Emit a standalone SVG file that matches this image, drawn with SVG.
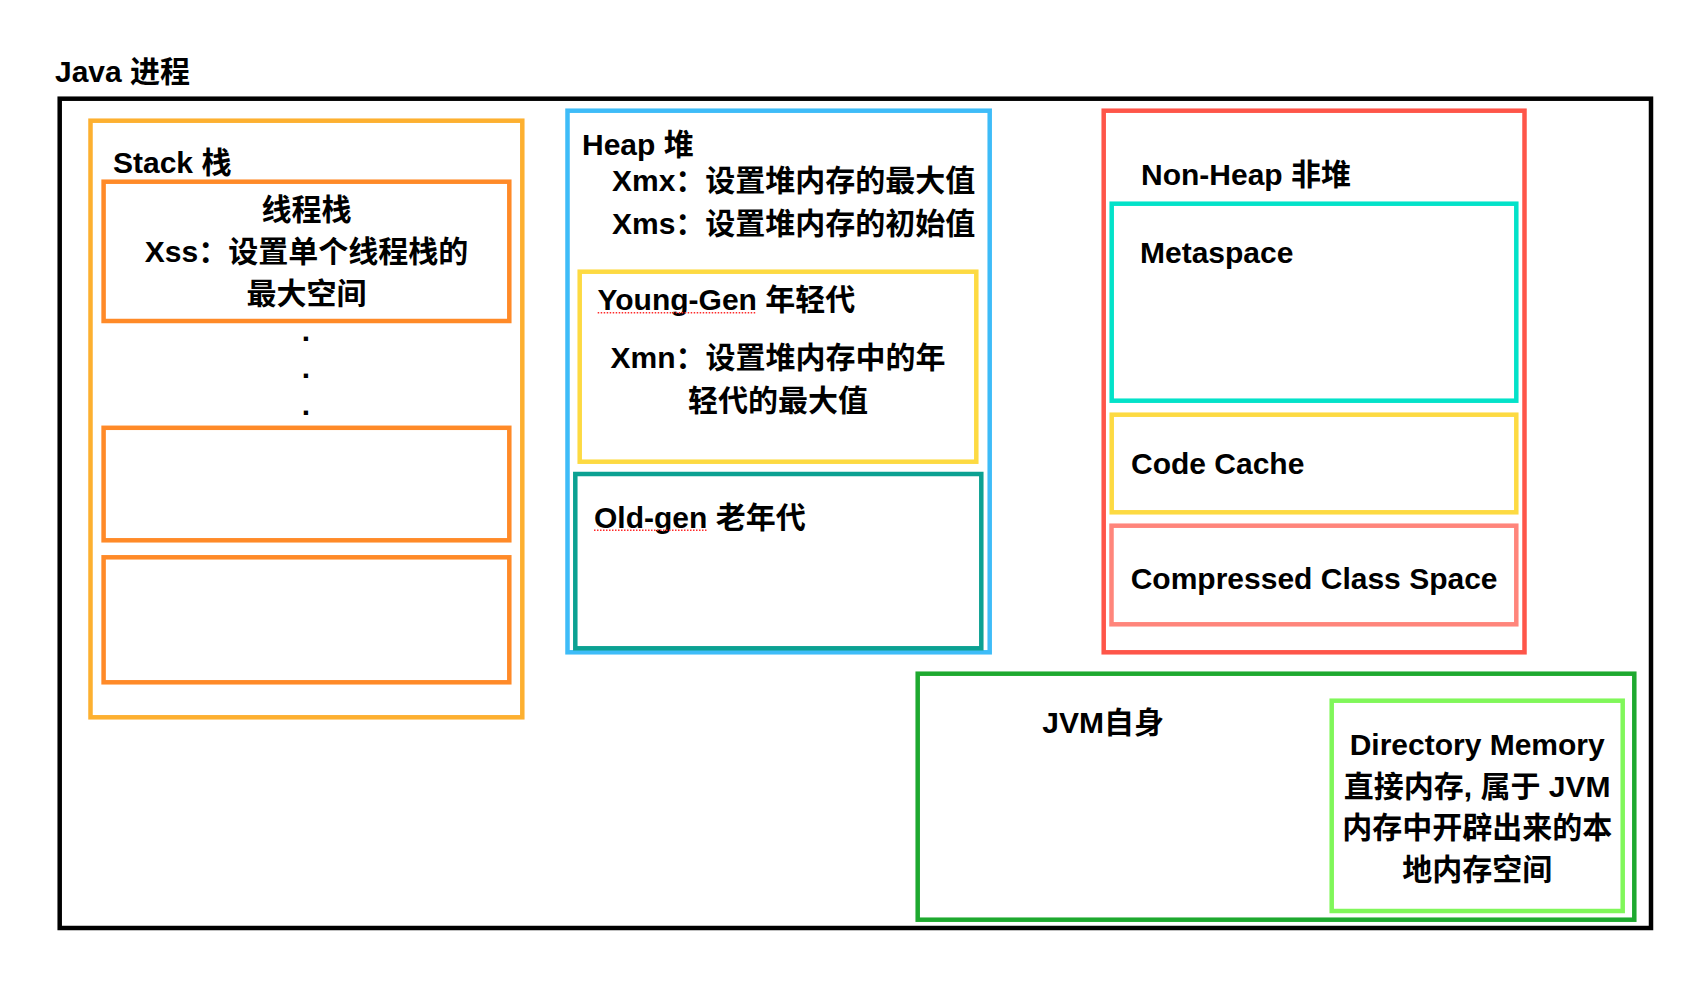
<svg xmlns="http://www.w3.org/2000/svg" width="1682" height="1002" viewBox="0 0 1682 1002">
<style>
  text { font-family: "Liberation Sans", "Noto Sans CJK SC", sans-serif; font-weight: bold; font-size: 30px; fill: #000; }
  .mid { text-anchor: middle; }
  .box { fill: none; stroke-width: 4.5; }
  .spell { fill: none; stroke: #ff2a2a; stroke-width: 1.5; stroke-dasharray: 1.5 1.5; }
</style>
<rect width="1682" height="1002" fill="#fff"/>

<g id="java-process">
  <text x="55" y="82">Java 进程</text>
  <rect class="box" x="59.7" y="98.7" width="1591.3" height="829.3" stroke="#000" stroke-width="4.7"/>
</g>

<g id="stack">
  <rect class="box" x="90.5" y="120.7" width="431.8" height="596.6" stroke="#FDB030"/>
  <text x="113" y="173">Stack 栈</text>
  <text class="mid" x="306" y="341">.</text>
  <text class="mid" x="306" y="378">.</text>
  <text class="mid" x="306" y="415">.</text>
</g>

<g id="thread-stack-1">
  <rect class="box" x="103.6" y="181.7" width="405.7" height="139.3" stroke="#FF8A28"/>
  <text class="mid" x="306.5" y="219.5">线程栈</text>
  <text class="mid" x="306.5" y="261.5">Xss：设置单个线程栈的</text>
  <text class="mid" x="306.5" y="304">最大空间</text>
</g>
<g id="thread-stack-2">
  <rect class="box" x="103.6" y="427.8" width="405.7" height="112.5" stroke="#FF8A28"/>
</g>
<g id="thread-stack-3">
  <rect class="box" x="103.6" y="557.3" width="405.7" height="125" stroke="#FF8A28"/>
</g>

<g id="heap">
  <rect class="box" x="567.5" y="110.7" width="422.2" height="541.6" stroke="#3EBCF8"/>
  <text x="582" y="155">Heap 堆</text>
  <text x="612" y="191">Xmx：设置堆内存的最大值</text>
  <text x="612" y="234">Xms：设置堆内存的初始值</text>
</g>

<g id="young-gen">
  <rect class="box" x="579.7" y="271.7" width="396.6" height="190" stroke="#FDDA42"/>
  <text x="597.5" y="310">Young-Gen 年轻代</text>
  <path class="spell" d="M597.7 312.8 H756.7"/>
  <text class="mid" x="778" y="367.5">Xmn：设置堆内存中的年</text>
  <text class="mid" x="778" y="410.5">轻代的最大值</text>
</g>

<g id="old-gen">
  <rect class="box" x="575.3" y="474" width="406" height="174.3" stroke="#0BA192"/>
  <text x="594" y="528">Old-gen 老年代</text>
  <path class="spell" d="M594 530.3 H707.3"/>
</g>

<g id="non-heap">
  <rect class="box" x="1103.7" y="110.7" width="420.8" height="541.6" stroke="#FE5549"/>
  <text x="1141" y="185">Non-Heap 非堆</text>
</g>

<g id="metaspace">
  <rect class="box" x="1111.7" y="203.7" width="404.6" height="197" stroke="#03E2C9"/>
  <text x="1140" y="262.7">Metaspace</text>
</g>

<g id="code-cache">
  <rect class="box" x="1111.7" y="414.7" width="404.6" height="97.6" stroke="#FDDA42"/>
  <text x="1131" y="474.3">Code Cache</text>
</g>

<g id="compressed-class-space">
  <rect class="box" x="1111.5" y="525.7" width="404.8" height="98.6" stroke="#FF857B"/>
  <text x="1130.7" y="589.3">Compressed Class Space</text>
</g>

<g id="jvm-self">
  <rect class="box" x="917.7" y="673.7" width="716.6" height="246" stroke="#1EA92F"/>
  <text x="1042.3" y="733.3">JVM自身</text>
</g>

<g id="direct-memory">
  <rect class="box" x="1331.7" y="700.7" width="291" height="210.3" stroke="#80F75A"/>
  <text class="mid" x="1477.2" y="755">Directory Memory</text>
  <text class="mid" x="1477.2" y="796.5">直接内存, 属于 JVM</text>
  <text class="mid" x="1477.2" y="838">内存中开辟出来的本</text>
  <text class="mid" x="1477.2" y="879.5">地内存空间</text>
</g>

<g id="connectors"></g>
</svg>
